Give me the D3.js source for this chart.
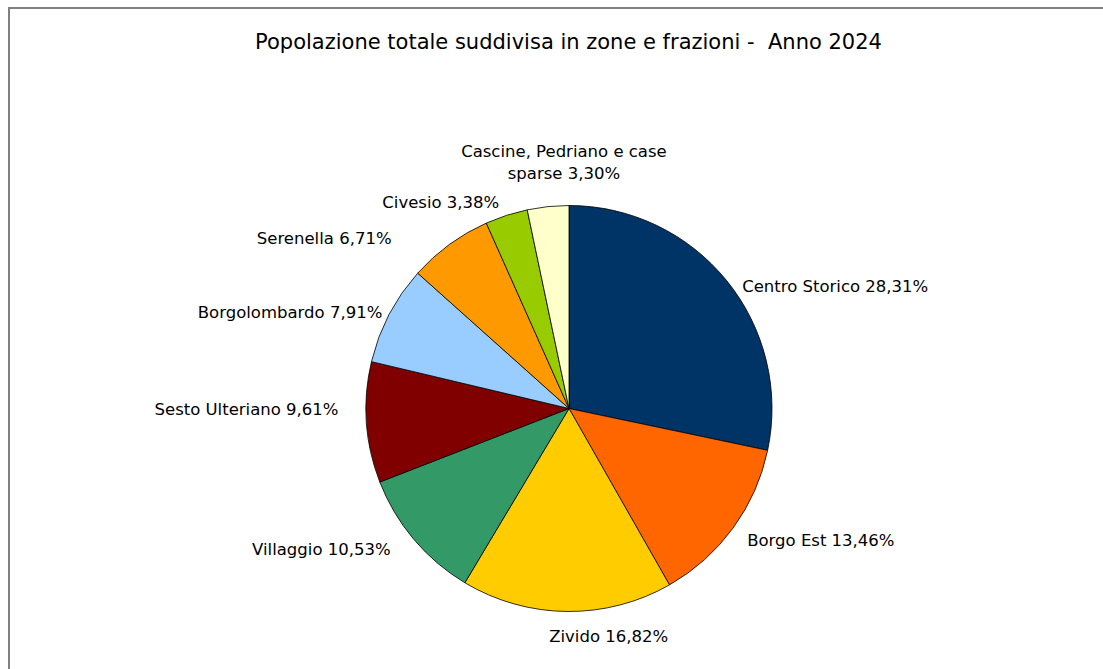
<!DOCTYPE html>
<html>
<head>
<meta charset="utf-8">
<script src="https://cdn.jsdelivr.net/npm/d3@7"></script>
<style>
  body { margin: 0; background: #fff; }
  text { font-family: "DejaVu Sans", sans-serif; fill: #000; white-space: pre; }
</style>
</head>
<body>
<div id="vis-holder"></div>
<script>
// zone names and share of population (%)
const zones = ["Centro Storico", "Borgo Est", "Zivido", "Villaggio", "Sesto Ulteriano",
    "Borgolombardo", "Serenella", "Civesio", "Cascine, Pedriano e case sparse"];
const shares = [28.31, 13.46, 16.82, 10.53, 9.61, 7.91, 6.71, 3.38, 3.30];
const colors = ["#003366", "#ff6600", "#ffcc00", "#339966", "#800000",
    "#99ccff", "#ff9900", "#99cc00", "#ffffcc"];
const title = "Popolazione totale suddivisa in zone e frazioni -  Anno 2024";

// small hand shifts of the labels, like the original layout engine did
const labelShift = [[0, 18], [-2, 0], [42, 5], [-8, -3], [-8, -15], [11, 7], [-46, 10], [-1, 6], [18, -25]];

const width = 1103, height = 669;
const cx = 569, cy = 408.5, radius = 203;

const svg = d3.select("#vis-holder")
    .append("svg")
    .attr("width", width)
    .attr("height", height);

// frame (runs off the right and bottom edge)
svg.append("rect")
    .attr("x", 9).attr("y", 8)
    .attr("width", width + 20).attr("height", height + 20)
    .attr("fill", "none")
    .attr("stroke", "#808080")
    .attr("stroke-width", 2);

svg.append("text")
    .attr("x", 568.5).attr("y", 49)
    .attr("text-anchor", "middle")
    .style("font-size", "21px")
    .text(title);

const data = zones.map((z, i) => ({ name: z, value: shares[i], color: colors[i] }));

const pie = d3.pie().sort(null).value(d => d.value);
const arc = d3.arc().innerRadius(0).outerRadius(radius);
const arcs = pie(data);

const g = svg.append("g").attr("transform", `translate(${cx},${cy})`);

g.selectAll("path")
    .data(arcs)
    .enter().append("path")
    .attr("d", arc)
    .attr("fill", d => d.data.color)
    .attr("stroke", "#000")
    .attr("stroke-width", 0.8);

const fmt = v => v.toFixed(2).replace(".", ",") + "%";

// labels outside the slice along its mid angle
g.selectAll("text.lbl")
    .data(arcs)
    .enter().append("text")
    .attr("class", "lbl")
    .style("font-size", "16.5px")
    .each(function (d, i) {
        const a = (d.startAngle + d.endAngle) / 2;
        const R = radius + 20;
        const s = Math.sin(a);
        const x = R * s + labelShift[i][0];
        const y = -R * Math.cos(a) + labelShift[i][1];
        const lines = d.data.name.length > 20
            ? ["Cascine, Pedriano e case", "sparse " + fmt(d.data.value)]
            : [d.data.name + " " + fmt(d.data.value)];
        const lh = 22;
        const t = d3.select(this)
            .attr("text-anchor", s > 0.3 ? "start" : s < -0.3 ? "end" : "middle");
        const y0 = y - (lines.length - 1) * lh / 2;
        lines.forEach((l, k) => t.append("tspan")
            .attr("x", x).attr("y", y0 + k * lh).attr("dy", "0.36em").text(l));
    });
</script>
</body>
</html>
